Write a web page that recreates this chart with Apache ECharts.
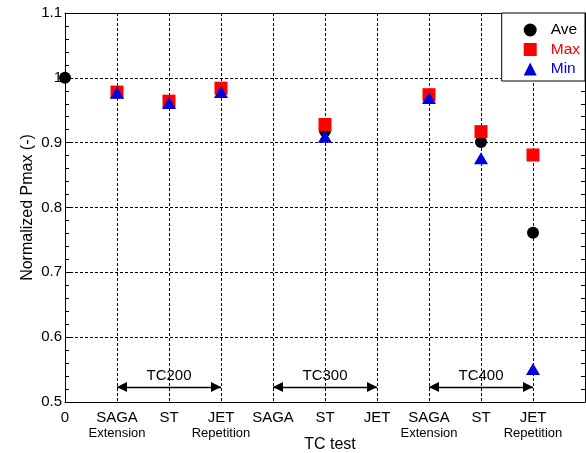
<!DOCTYPE html>
<html>
<head>
<meta charset="utf-8">
<script src="https://cdn.jsdelivr.net/npm/echarts@6/dist/echarts.min.js"></script>
<style>
  html, body { margin: 0; padding: 0; background: #fff; }
  #chart { width: 586px; height: 453px; }
</style>
</head>
<body>
<div id="chart"></div>
<script>
// Test conditions along the x axis (position = index)
const testNames = ['0', 'SAGA', 'ST', 'JET', 'SAGA', 'ST', 'JET', 'SAGA', 'ST', 'JET'];
const testSubNames = ['', 'Extension', '', 'Repetition', '', '', '', 'Extension', '', 'Repetition'];

// Normalized Pmax per test (null = not measured)
const aveValues = [1.000, 0.977, 0.962, 0.981, null, 0.918, null, 0.971, 0.901, 0.761];
const maxValues = [null, 0.978, 0.964, 0.984, null, 0.928, null, 0.974, 0.917, 0.881];
const minValues = [null, 0.977, 0.961, 0.978, null, 0.909, null, 0.969, 0.876, 0.551];

// Thermal-cycle groups: [label, first test index, last test index]
const cycleGroups = [['TC200', 1, 3], ['TC300', 4, 6], ['TC400', 7, 9]];
const groupArrowY = 0.523;

const yTicks = ['0.5', '0.6', '0.7', '0.8', '0.9', '1', '1.1'];

function toPoints(values) {
  const pts = [];
  values.forEach((v, i) => { if (v !== null) pts.push([i, v]); });
  return pts;
}

const FONT = 'Liberation Sans, Arial, sans-serif';
const RED = '#ff0000';
const BLUE = '#0000dd';

const gridLine = { show: true, lineStyle: { color: '#000', width: 1, type: [3, 2] } };

const chart = echarts.init(document.getElementById('chart'), null, { renderer: 'canvas' });
chart.setOption({
  animation: false,
  backgroundColor: '#fff',
  textStyle: { fontFamily: FONT },
  grid: { left: 65, right: 1, top: 13, bottom: 51, containLabel: false, outerBoundsMode: 'none' },
  legend: {
    orient: 'vertical',
    right: 1,
    top: 13,
    padding: [9, 5, 4, 22],
    itemGap: 3.5,
    itemWidth: 13,
    itemHeight: 13,
    backgroundColor: '#fff',
    borderColor: '#000',
    borderWidth: 1,
    borderRadius: 0,
    textStyle: { fontSize: 15.5, fontFamily: FONT, padding: [0, 0, 0, 9] },
    data: [
      { name: 'Ave', icon: 'circle', textStyle: { color: '#000' } },
      { name: 'Max', icon: 'rect', textStyle: { color: RED } },
      { name: 'Min', icon: 'triangle', textStyle: { color: BLUE } }
    ]
  },
  xAxis: [
    {
      type: 'value',
      min: 0,
      max: 10,
      interval: 1,
      name: 'TC test',
      nameLocation: 'middle',
      nameGap: 35,
      nameMoveOverlap: false,
      nameTextStyle: { fontSize: 16, color: '#000', fontFamily: FONT, padding: [0, 0, 0, 10] },
      axisLine: { show: true, onZero: false, lineStyle: { color: '#000', width: 1 } },
      axisTick: { show: false },
      splitLine: gridLine,
      axisLabel: {
        margin: 8,
        color: '#000',
        showMaxLabel: false,
        formatter: function (v) {
          const i = Math.round(v);
          if (i < 0 || i >= testNames.length) return '';
          const main = '{a|' + testNames[i] + '}';
          return testSubNames[i] ? main + '\n{b|' + testSubNames[i] + '}' : main;
        },
        rich: {
          a: { fontSize: 15, lineHeight: 16, fontFamily: FONT, color: '#000' },
          b: { fontSize: 13, lineHeight: 15, fontFamily: FONT, color: '#000' }
        }
      }
    },
    {
      type: 'value',
      position: 'top',
      min: 0,
      max: 10,
      interval: 1,
      axisLine: { show: true, onZero: false, lineStyle: { color: '#000', width: 1 } },
      axisTick: { show: false },
      axisLabel: { show: false },
      splitLine: { show: false }
    }
  ],
  yAxis: [
    {
      type: 'value',
      min: 0.5,
      max: 1.1,
      interval: 0.1,
      name: 'Normalized Pmax (-)',
      nameLocation: 'middle',
      nameGap: 29,
      nameMoveOverlap: false,
      nameTextStyle: { fontSize: 16, color: '#000', fontFamily: FONT },
      axisLine: { show: true, onZero: false, lineStyle: { color: '#000', width: 1 } },
      axisTick: { show: true, inside: true, length: 5, lineStyle: { color: '#000' } },
      minorTick: { show: true, splitNumber: 5, length: 4, lineStyle: { color: '#000' } },
      splitLine: gridLine,
      axisLabel: {
        margin: 3,
        fontSize: 15,
        color: '#000',
        formatter: function (v) {
          const idx = Math.round((v - 0.5) * 10);
          return yTicks[idx] !== undefined ? yTicks[idx] : '';
        }
      }
    },
    {
      type: 'value',
      position: 'right',
      min: 0.5,
      max: 1.1,
      interval: 0.1,
      axisLine: { show: true, onZero: false, lineStyle: { color: '#000', width: 1 } },
      axisTick: { show: true, inside: true, length: 5, lineStyle: { color: '#000' } },
      minorTick: { show: true, splitNumber: 5, length: 4, lineStyle: { color: '#000' } },
      axisLabel: { show: false },
      splitLine: { show: false }
    }
  ],
  series: [
    {
      name: 'Groups',
      type: 'scatter',
      data: [],
      silent: true,
      markLine: {
        silent: true,
        symbol: ['triangle', 'triangle'],
        symbolSize: 10,
        symbolOffset: [[0, 5], [0, 5]],
        lineStyle: { color: '#000', width: 1.3, type: 'solid' },
        itemStyle: { color: '#000' },
        label: { show: true, position: 'middle', fontSize: 15, color: '#000', fontFamily: FONT, distance: 4 },
        emphasis: { disabled: true },
        data: cycleGroups.map(g => [
          { coord: [g[1], groupArrowY], name: g[0], label: { formatter: g[0] } },
          { coord: [g[2], groupArrowY] }
        ])
      }
    },
    {
      name: 'Ave',
      type: 'scatter',
      symbol: 'circle',
      symbolSize: 12,
      itemStyle: { color: '#000', opacity: 1 },
      data: toPoints(aveValues)
    },
    {
      name: 'Max',
      type: 'scatter',
      symbol: 'rect',
      symbolSize: 13,
      itemStyle: { color: RED, opacity: 1 },
      data: toPoints(maxValues)
    },
    {
      name: 'Min',
      type: 'scatter',
      symbol: 'triangle',
      symbolSize: [14, 12],
      itemStyle: { color: BLUE, opacity: 1 },
      data: toPoints(minValues)
    }
  ]
});
</script>
</body>
</html>
